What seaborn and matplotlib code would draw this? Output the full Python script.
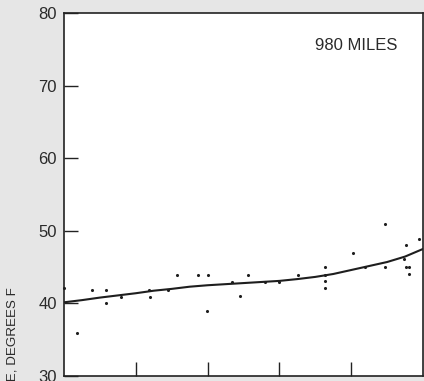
import matplotlib
matplotlib.use("Agg")
import matplotlib.pyplot as plt
from matplotlib import font_manager
import seaborn as sns
import pandas as pd

# Observed temperatures (degrees F) along the route
obs_x = [0.0, 0.18, 0.39, 0.58, 0.59, 0.79, 1.18, 1.20, 1.45, 1.58, 1.87, 1.99,
         2.01, 2.34, 2.45, 2.56, 2.80, 3.00, 3.26, 3.63, 3.63, 3.63, 3.63, 4.02,
         4.19, 4.47, 4.47, 4.74, 4.76, 4.77, 4.81, 4.81, 4.95]
obs_y = [42.1, 35.9, 41.8, 41.8, 40.0, 40.9, 41.8, 40.9, 41.9, 43.9, 43.9, 38.9,
         43.9, 42.9, 41.0, 43.9, 43.0, 43.0, 43.9, 44.95, 43.9, 43.1, 42.1, 47.0,
         45.0, 51.0, 45.0, 46.1, 48.0, 44.95, 44.95, 44.0, 48.9]

# Smoothed trend curve
curve_x = [0.0, 0.25, 0.5, 0.75, 1.0, 1.25, 1.5, 1.75, 2.0, 2.25, 2.5, 2.75,
           3.0, 3.25, 3.5, 3.75, 4.0, 4.25, 4.5, 4.75, 5.0]
curve_y = [40.15, 40.45, 40.8, 41.1, 41.4, 41.75, 42.0, 42.3, 42.5, 42.65, 42.8,
           42.95, 43.1, 43.35, 43.65, 44.05, 44.6, 45.15, 45.7, 46.45, 47.5]

y_ticks = [30, 40, 50, 60, 70, 80]
x_ticks = [1, 2, 3, 4]
station_label = "980 MILES"
y_label = "TEMPERATURE, DEGREES F"

sns.set_theme(style="ticks")
plt.rcParams["font.family"] = ["Liberation Sans", "DejaVu Sans"]

# Narrow face for the rotated axis title, if present
try:
    font_manager.findfont("Liberation Sans Narrow", fallback_to_default=False)
    label_family, label_size = ["Liberation Sans Narrow", "DejaVu Sans"], 12
except Exception:
    label_family, label_size = ["Liberation Sans", "DejaVu Sans"], 9.6

W, H = 424, 381
fig = plt.figure(figsize=(W / 100, H / 100), dpi=100, facecolor="#e6e6e6")
ax = fig.add_axes([64 / W, 1 - 376 / H, (423 - 64) / W, (376 - 13) / H])
ax.set_facecolor("white")

obs = pd.DataFrame({"x": obs_x, "y": obs_y})
trend = pd.DataFrame({"x": curve_x, "y": curve_y})

sns.lineplot(data=trend, x="x", y="y", ax=ax, color="#1e1e1e", linewidth=1.5,
             sort=True, estimator=None)
sns.scatterplot(data=obs, x="x", y="y", ax=ax, color="#1e1e1e", s=5,
                linewidth=0, clip_on=False, zorder=3)

ax.set_xlim(0, 5)
ax.set_ylim(30, 80)
ax.set_yticks(y_ticks)
ax.set_xticks(x_ticks)
ax.set_xticklabels([])
ax.set_xlabel("")
ax.set_ylabel("")
ax.tick_params(axis="both", direction="in", length=10, width=1.0, color="#222222")
ax.tick_params(axis="y", labelsize=12, pad=5, labelcolor="#2a2a2a")
for side in ["left", "right", "top", "bottom"]:
    ax.spines[side].set_visible(True)
    ax.spines[side].set_color("#222222")
    ax.spines[side].set_linewidth(1.2)

ax.text(0.93, 0.91, station_label, transform=ax.transAxes, ha="right",
        va="center", fontsize=12, color="#2a2a2a")

fig.text(12.5 / W, 1 - 287 / H, y_label, rotation=90, ha="center", va="top",
         fontsize=label_size, family=label_family, color="#2a2a2a")

fig.savefig("out.png", dpi=100, facecolor=fig.get_facecolor())
